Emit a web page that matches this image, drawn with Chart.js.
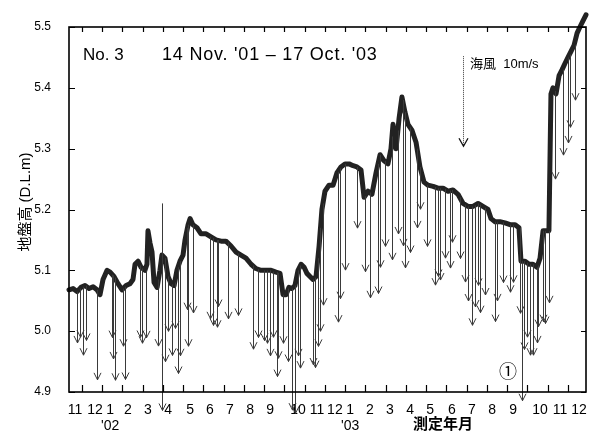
<!DOCTYPE html>
<html>
<head>
<meta charset="utf-8">
<script src="https://cdn.jsdelivr.net/npm/chart.js@4.4.1/dist/chart.umd.min.js"></script>
<style>
  html, body { margin: 0; padding: 0; background: #fff; }
  #wrap { width: 590px; height: 431px; }
</style>
</head>
<body>
<div id="wrap"><canvas id="c"></canvas></div>
<script>
// x = months counted from 1 Nov 2001 (0 = 1 Nov '01, 1 = 1 Dec '01, ...)
const monthLabels = ['11', '12', ['1', "'02"], '2', '3', '4', '5', '6', '7', '8', '9', '10', '11',
  '12', ['1', "'03"], '2', '3', '4', '5', '6', '7', '8', '9', '10', '11', '12'];
const monthLabelPos = [0.67, 1.65, 2.40, 3.28, 4.27, 5.26, 6.35, 7.33, 8.32, 9.31, 10.30, 11.68, 12.62,
  13.5, 14.25, 15.23, 16.22, 17.21, 18.20, 19.28, 20.27, 21.26, 22.30, 23.63, 24.62, 25.56];
const monthEdges = [1, 2, 3, 4, 5, 6, 7, 8, 9, 10, 11, 12, 13, 14, 15, 16, 17, 18, 19, 20, 21, 22, 23, 24, 25];
const yTicks = [4.9, 5.0, 5.1, 5.2, 5.3, 5.4, 5.5];

// ground level (D.L. m)
const groundMonth = [
  0.37, 0.57, 0.77, 0.96, 1.16, 1.36, 1.56, 1.75, 1.90, 2.05,
  2.25, 2.40, 2.59, 2.79, 2.99, 3.19, 3.38, 3.53, 3.63, 3.78,
  3.93, 4.12, 4.22, 4.27, 4.37, 4.47, 4.57, 4.72, 4.86, 4.96,
  5.11, 5.26, 5.41, 5.56, 5.70, 5.85, 6.00, 6.10, 6.25, 6.35,
  6.49, 6.69, 6.89, 7.14, 7.38, 7.63, 7.88, 8.12, 8.37, 8.62,
  8.86, 9.11, 9.36, 9.60, 9.85, 10.10, 10.35, 10.59, 10.79, 10.94,
  11.09, 11.23, 11.38, 11.53, 11.68, 11.83, 11.98, 12.12, 12.27, 12.42,
  12.57, 12.72, 12.86, 13.01, 13.21, 13.41, 13.60, 13.80, 14.00, 14.20,
  14.40, 14.59, 14.79, 14.94, 15.14, 15.33, 15.53, 15.73, 15.93, 16.12,
  16.27, 16.37, 16.52, 16.67, 16.81, 16.96, 17.11, 17.31, 17.51, 17.70,
  17.90, 18.10, 18.35, 18.59, 18.84, 19.09, 19.33, 19.58, 19.83, 20.07,
  20.32, 20.57, 20.81, 21.06, 21.21, 21.41, 21.65, 21.90, 22.15, 22.40,
  22.59, 22.69, 22.89, 23.09, 23.28, 23.48, 23.63, 23.78, 23.98, 24.07,
  24.17, 24.27, 24.42, 24.57, 24.72, 24.86, 25.01, 25.16, 25.31, 25.46,
  25.60, 25.75, 25.90
];
const groundLevel = [
  5.068, 5.07, 5.065, 5.072, 5.075, 5.07, 5.073, 5.068, 5.06, 5.085,
  5.1, 5.097, 5.09, 5.078, 5.068, 5.075, 5.078, 5.085, 5.11, 5.115,
  5.105, 5.1, 5.11, 5.165, 5.145, 5.13, 5.08, 5.072, 5.1, 5.125,
  5.12, 5.09, 5.078, 5.075, 5.1, 5.115, 5.125, 5.15, 5.175, 5.185,
  5.175, 5.17, 5.16, 5.16, 5.155, 5.15, 5.148, 5.148, 5.14, 5.13,
  5.125, 5.12, 5.11, 5.103, 5.1, 5.1, 5.1, 5.097, 5.095, 5.06,
  5.06, 5.072, 5.07, 5.075, 5.1, 5.11, 5.105, 5.095, 5.09, 5.085,
  5.09, 5.14, 5.2, 5.23, 5.24, 5.24, 5.26, 5.27, 5.275, 5.275,
  5.272, 5.27, 5.265, 5.22, 5.23, 5.225, 5.26, 5.29, 5.28, 5.275,
  5.3, 5.34, 5.3, 5.35, 5.385, 5.36, 5.34, 5.33, 5.31, 5.27,
  5.245, 5.24, 5.238, 5.235, 5.235, 5.23, 5.232, 5.225, 5.21, 5.205,
  5.205, 5.21, 5.205, 5.2, 5.185, 5.18, 5.18, 5.178, 5.175, 5.175,
  5.17, 5.115, 5.115, 5.11, 5.11, 5.105, 5.12, 5.165, 5.165, 5.165,
  5.39, 5.4, 5.39, 5.42, 5.43, 5.44, 5.45, 5.46, 5.47, 5.49,
  5.5, 5.51, 5.52
];

// sea-breeze wind arrows: start level and speed (m/s)
const windMonth = [
  0.77, 0.91, 1.06, 1.21, 1.75, 2.49, 2.54, 2.64, 3.04, 3.14,
  3.88, 3.98, 4.17, 4.77, 4.96, 5.11, 5.26, 5.46, 5.60, 5.75,
  5.85, 6.20, 6.25, 6.49, 7.33, 7.48, 7.68, 7.73, 8.22, 8.72,
  9.46, 9.70, 10.00, 10.15, 10.30, 10.44, 10.64, 10.69, 10.94, 11.19,
  11.38, 11.53, 11.68, 11.78, 12.42, 12.52, 12.67, 12.77, 12.91, 13.65,
  13.75, 14.00, 14.59, 14.99, 15.23, 15.63, 15.73, 15.98, 16.32, 16.62,
  16.86, 16.96, 17.21, 17.56, 17.70, 18.05, 18.44, 18.59, 18.69, 18.94,
  19.19, 19.28, 19.68, 19.93, 20.07, 20.27, 20.42, 20.57, 20.67, 20.91,
  21.41, 21.51, 21.80, 22.15, 22.30, 22.64, 22.74, 22.84, 22.99, 23.14,
  23.28, 23.48, 23.53, 23.78, 23.88, 24.07, 24.37, 24.77, 25.01, 25.11,
  25.36
];
const windBase = [
  5.065, 5.07, 5.073, 5.075, 5.068, 5.093, 5.092, 5.088, 5.07, 5.073,
  5.108, 5.103, 5.1, 5.085, 5.21, 5.12, 5.09, 5.077, 5.08, 5.105,
  5.115, 5.17, 5.175, 5.175, 5.155, 5.153, 5.15, 5.15, 5.146, 5.128,
  5.108, 5.102, 5.1, 5.1, 5.1, 5.098, 5.097, 5.096, 5.06, 5.07,
  5.07, 5.075, 5.1, 5.108, 5.085, 5.088, 5.12, 5.17, 5.21, 5.262,
  5.268, 5.275, 5.27, 5.222, 5.228, 5.275, 5.29, 5.28, 5.32, 5.33,
  5.38, 5.36, 5.335, 5.3, 5.27, 5.24, 5.237, 5.235, 5.235, 5.234,
  5.231, 5.232, 5.22, 5.208, 5.205, 5.205, 5.207, 5.21, 5.208, 5.203,
  5.18, 5.18, 5.179, 5.175, 5.175, 5.17, 5.115, 5.115, 5.113, 5.11,
  5.11, 5.105, 5.108, 5.165, 5.165, 5.165, 5.395, 5.43, 5.45, 5.455,
  5.47
];
const windSpeed = [
  5.7, 5.4, 7.6, 6.1, 10, 7, 9.3, 11.4, 6.4, 10.3,
  8, 8.3, 7.5, 7.4, 23, 11.5, 6.1, 7.9, 5.1, 11.8,
  10.5, 9.1, 13.5, 9.8, 9.1, 9.7, 9.7, 7.4, 8.5, 6.9,
  9.3, 7.6, 7.8, 8.1, 9.5, 7.3, 11.6, 9.5, 5.4, 8.1,
  13.5, 14.2, 9.5, 11.4, 9.5, 10, 9.8, 11.5, 11.3, 16.7,
  14.5, 11.8, 6.8, 8.4, 11.7, 14.4, 12.5, 9.5, 13.7, 11.5,
  16.2, 17.3, 13.9, 8.8, 4.7, 6.8, 10.9, 9.8, 10.2, 7.7,
  8.6, 5.8, 6.8, 8.6, 10.5, 13.2, 11.3, 9.1, 12, 9.7,
  11.1, 8.8, 6.7, 7.5, 6.4, 9.5, 15.5, 9.8, 8.3, 10.1,
  10.1, 8.4, 6.8, 10.1, 10.3, 8, 9.8, 9.5, 9.5, 8.1,
  6.1
];

// 10 m/s reference arrow
const keyMonth = 19.83;
const keyBase = 5.452;
const keySpeed = 10;
const WIND_SCALE = 0.0148; // metres of the y axis per 1 m/s

const LATIN = '"Liberation Sans", Arial, sans-serif';
const JP = '"Liberation Sans", "Noto Sans CJK JP", sans-serif';

function arrow(ctx, px, yTop, yTip, half, len) {
  const x = Math.round(px) + 0.5;
  ctx.beginPath();
  ctx.moveTo(x, yTop);
  ctx.lineTo(x, yTip);
  ctx.moveTo(x - half, yTip - len);
  ctx.lineTo(x, yTip);
  ctx.lineTo(x + half, yTip - len);
  ctx.stroke();
}

const decor = {
  id: 'decor',
  afterDatasetsDraw(chart) {
    const { ctx, chartArea: a, scales: { x, y } } = chart;
    ctx.save();

    // wind arrows
    ctx.strokeStyle = '#3a3a3a';
    ctx.lineWidth = 1;
    windMonth.forEach((m, i) => {
      const top = windBase[i];
      const tip = top - windSpeed[i] * WIND_SCALE;
      arrow(ctx, x.getPixelForValue(m), y.getPixelForValue(top), y.getPixelForValue(tip), 3.5, 7);
    });

    // key arrow
    ctx.setLineDash([1, 1]);
    const kx = x.getPixelForValue(keyMonth);
    const kTop = y.getPixelForValue(keyBase);
    const kTip = y.getPixelForValue(keyBase - keySpeed * WIND_SCALE);
    ctx.beginPath();
    ctx.moveTo(Math.round(kx) + 0.5, kTop);
    ctx.lineTo(Math.round(kx) + 0.5, kTip);
    ctx.stroke();
    ctx.setLineDash([]);
    ctx.strokeStyle = '#111';
    ctx.lineWidth = 1.3;
    arrow(ctx, kx, kTip, kTip, 4.5, 8);

    // frame
    ctx.strokeStyle = '#000';
    ctx.lineWidth = 1.6;
    ctx.strokeRect(a.left, a.top, a.right - a.left, a.bottom - a.top);

    // inward ticks
    ctx.lineWidth = 1.2;
    ctx.beginPath();
    monthEdges.forEach(m => {
      const px = Math.round(x.getPixelForValue(m)) + 0.5;
      ctx.moveTo(px, a.bottom); ctx.lineTo(px, a.bottom - 7);
      ctx.moveTo(px, a.top); ctx.lineTo(px, a.top + 5);
    });
    yTicks.forEach(v => {
      const py = Math.round(y.getPixelForValue(v)) + 0.5;
      ctx.moveTo(a.left, py); ctx.lineTo(a.left + 6, py);
      ctx.moveTo(a.right, py); ctx.lineTo(a.right - 5, py);
    });
    ctx.stroke();

    // texts
    ctx.fillStyle = '#000';
    ctx.textBaseline = 'alphabetic';
    ctx.textAlign = 'left';
    ctx.font = '17px ' + LATIN;
    ctx.fillText('No. 3', 83, 60);
    ctx.font = '18px ' + LATIN;
    ctx.letterSpacing = '0.8px';
    ctx.fillText("14 Nov. '01 – 17 Oct. '03", 162, 60);
    ctx.letterSpacing = '0px';

    ctx.font = '13px ' + JP;
    ctx.fillText('海風  10m/s', 470, 68);

    ctx.font = '18px "Noto Sans CJK JP", sans-serif';
    ctx.textAlign = 'center';
    ctx.textBaseline = 'middle';
    ctx.fillText('①', 508, 371);

    ctx.font = 'bold 15px "Noto Sans CJK JP", sans-serif';
    ctx.fillText('測定年月', 443, 423);

    ctx.save();
    ctx.translate(26, 202);
    ctx.rotate(-Math.PI / 2);
    ctx.font = '15px ' + JP;
    ctx.fillText('地盤高 (D.L.m)', 0, 0);
    ctx.restore();

    ctx.restore();
  }
};

new Chart(document.getElementById('c'), {
  type: 'line',
  data: {
    datasets: [{
      label: '地盤高',
      data: groundMonth.map((m, i) => ({ x: m, y: groundLevel[i] })),
      borderColor: '#222',
      borderWidth: 5,
      borderJoinStyle: 'round',
      borderCapStyle: 'round',
      pointRadius: 0,
      tension: 0,
      clip: false
    }]
  },
  options: {
    responsive: true,
    maintainAspectRatio: false,
    animation: false,
    layout: { padding: { top: 27, right: 4, left: 0, bottom: 0 } },
    plugins: { legend: { display: false }, tooltip: { enabled: false } },
    scales: {
      x: {
        type: 'linear',
        min: 0.37,
        max: 25.9,
        afterBuildTicks: s => { s.ticks = monthLabelPos.map(v => ({ value: v })); },
        afterFit: s => { s.height = 39; },
        grid: { display: false },
        border: { display: false },
        ticks: {
          autoSkip: false,
          maxRotation: 0,
          padding: 2,
          color: '#000',
          font: { family: LATIN, size: 14, lineHeight: 1.15 },
          callback: (v, i) => monthLabels[i]
        }
      },
      y: {
        min: 4.9,
        max: 5.5,
        afterBuildTicks: s => { s.ticks = yTicks.map(v => ({ value: v })); },
        afterFit: s => { s.width = 69; },
        grid: { display: false },
        border: { display: false },
        ticks: {
          padding: 10,
          color: '#000',
          font: { family: LATIN, size: 12 },
          callback: v => Number(v).toFixed(1)
        }
      }
    }
  },
  plugins: [decor]
});
</script>
</body>
</html>
